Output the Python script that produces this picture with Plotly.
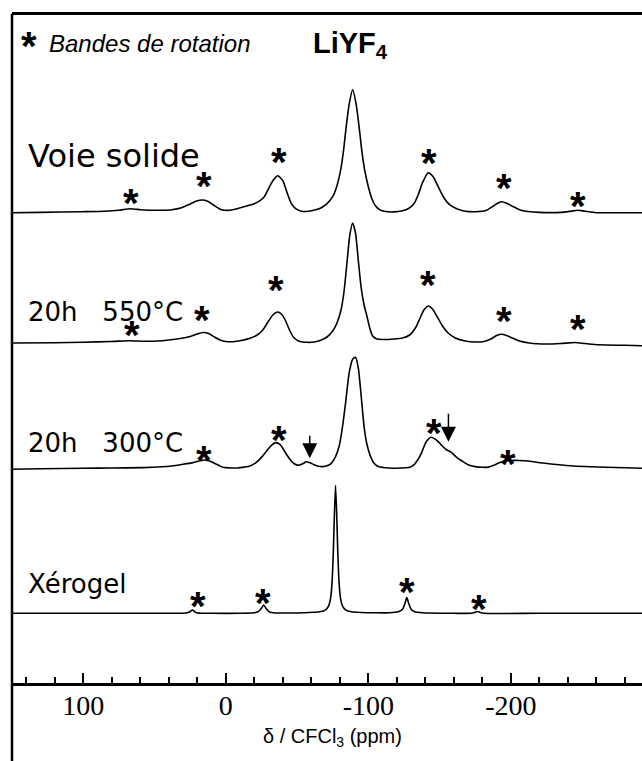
import plotly.graph_objects as go

# ---------------- data ----------------
# chemical shift (ppm) and intensity above each trace's baseline (arbitrary units)
vs_ppm = [150, 130, 101, 85, 75, 67, 60, 55, 45, 38, 31, 26, 21, 16, 12, 8, 4, 1, -3, -8, -14, -20,
          -24, -27, -30, -33, -36.5, -40, -43, -46, -49, -53, -58, -63, -67, -71, -75, -78, -80.5,
          -82.5, -84, -86.5, -89, -91.5, -94, -95.5, -97.5, -100, -102.5, -105, -108, -112, -118,
          -124, -128, -132, -135, -138, -142, -145.5, -149, -153, -157, -162, -168, -175, -180,
          -183, -187, -190, -193.5, -197, -201, -206, -212, -220, -235, -242, -247, -252, -260,
          -275, -292]
vs_int = [0, 0.3, 1, 1.5, 2.5, 4, 3, 2.5, 2.5, 3, 5, 8, 11.5, 12.7, 11, 7, 3.5, 2.5, 2.5, 4, 6.5, 9,
          12, 16, 24, 32, 37, 32, 20, 9, 4, 1.5, 1.5, 3, 5, 9, 16, 27, 42,
          61, 80, 108, 123, 108, 80, 61, 42, 26, 14, 7, 3, 1.2, 0.8,
          2, 4, 9, 18, 30, 40, 36, 26, 15, 8, 4, 1.5, 1, 1.5,
          2.5, 6, 9, 11, 9.5, 6.5, 3, 1.2, 0.3, 0.3, 1.5, 2.5, 1.5, 0,
          0, 0]

s550_ppm = [150, 120, 100, 80, 67, 58, 48, 40, 32, 25, 20, 16, 12, 8, 4, 0, -5, -11, -17, -22, -26,
            -30, -33, -36.3, -39, -42, -45, -48, -52, -57, -62, -67, -71, -75, -78, -81, -83, -85,
            -87, -89, -91, -93, -95, -97, -99, -101, -103, -106, -110, -118, -124, -129, -133, -136,
            -139, -142, -145, -148, -152, -156, -161, -168, -175, -181, -186, -190, -193.5, -197,
            -201, -206, -213, -225, -235, -245, -252, -262, -280, -292]
s550_int = [0, 0.3, 0.8, 1.5, 2.3, 1.8, 2, 3, 4.5, 6.5, 9, 10.5, 9.5, 6, 3, 1.5, 1.3, 2.5, 4.7, 8, 13,
            22, 28, 31, 29, 22, 12, 5, 1.5, 0.7, 1, 3, 6, 12, 20, 34, 52, 80,
            108, 120, 110, 82, 55, 38, 27, 15, 7, 4, 3.5, 4, 5, 8, 15, 24,
            33, 37, 34, 27, 17, 10, 5, 2, 1, 1.5, 4, 7.5, 8.8, 7.5,
            5, 2, 0, -1, -0.5, 0.5, -0.5, -1.8, -2.3, -2.7]

s300_ppm = [150, 130, 100, 80, 58, 45, 38, 30, 23, 18, 15, 12, 9, 5, 2, -4, -8, -13, -17, -21,
            -25.5, -29, -32, -35, -38, -40, -43, -45.5, -48, -51, -54, -56.5, -59, -62, -65, -68,
            -71, -74, -77, -79.5, -81.5, -84, -86.5, -89, -91, -93, -95, -97, -99, -101.6, -104,
            -107, -112, -117, -123, -129, -132, -134.6, -137.5, -140, -142, -144, -146.5, -149,
            -152, -155, -157, -159, -162, -166.4, -170, -175, -180, -184, -188, -191, -195, -200,
            -206, -212, -218, -224, -232, -244, -256, -267, -280, -292]
s300_int = [-1, -0.5, 0, 0.3, 0.7, 1.5, 2.3, 4, 5.7, 7.5, 8.3, 7.5, 5.7, 3, 1, 0.3, 0.3, 1.2, 2.3, 5.5,
            11.7, 18, 23, 25.7, 24, 20, 13, 8, 4.5, 3, 4.5, 6.5, 5.5, 3.5, 2, 1.7,
            2.5, 5, 11.7, 22, 38, 65, 95, 109, 111, 100, 72, 42, 24, 11.7, 5,
            1.7, 0.5, 0, 0.3, 1, 3.5, 8.3, 16, 25, 29, 31, 29.5, 26.7,
            22, 18.3, 17, 15, 11, 6.7, 3.5, 1.7, 1, 1.2, 3, 5, 7, 7.8,
            7.8, 7.3, 6, 5, 3.8, 2.3, 1.5, 1, 0.5, 0]

xero_ppm = [150, 100, 60, 35, 28, 25.5, 23.4, 21.5, 19, 10, -10, -20, -23, -25, -26.6, -28.2, -30,
            -33, -40, -55, -62, -66, -70, -72, -73.5, -74.5, -75.5, -76, -77, -78, -78.5, -79.5,
            -80.5, -82, -84, -88, -95, -105, -115, -121, -124, -125.7, -127, -128.3, -130, -132.5,
            -138, -160, -172, -174.5, -176.5, -178.5, -181, -220, -292]
xero_int = [0, 0, 0, 0, 0.3, 1.2, 3.3, 1.2, 0.2, 0, 0, 0.5, 2, 5, 8.3, 5, 2,
            0.6, 0.3, 0.5, 1, 1.5, 3.5, 7, 15, 30, 64, 90, 128, 90, 64, 30,
            15, 7, 3.5, 1.5, 0.8, 0.5, 0.5, 1.5, 4, 10, 15.7, 10, 4, 1.5,
            0.5, 0, 0, 0.8, 1.8, 0.8, 0, 0, 0]

spectra_ppm = [vs_ppm, s550_ppm, s300_ppm, xero_ppm]
spectra_int = [vs_int, s550_int, s300_int, xero_int]
sample_names = ["Voie solide", "20h\u00a0\u00a0\u00a0550°C", "20h\u00a0\u00a0\u00a0300°C", "Xérogel"]
offsets = [470.3, 340.0, 214.7, 69.7]          # vertical stacking of the traces

# spinning side bands (*) : position (ppm) and height of the star above baseline
star_ppm = [[66.6, 15.6, -37.0, -142.4, -195.0, -246.8],
            [66.1, 17.0, -35.1, -141.7, -195.0, -246.8],
            [15.4, -37.2, -145.9, -197.8],
            [19.4, -26.2, -126.9, -177.4]]
star_h = [[12.7, 29.4, 53.4, 52.7, 27.7, 9.4],
          [11.3, 26.3, 56.3, 61.0, 25.0, 17.0],
          [11.3, 31.3, 38.3, 7.3],
          [10.0, 13.3, 24.3, 7.3]]

# arrows on the 300 °C trace: ppm, tail height, tip height
arrow_ppm = [-58.9, -156.2]
arrow_tail = [34.0, 56.0]
arrow_tip = [10.0, 26.6]

tick_vals = [100, 0, -100, -200]
tick_text = ["100", "0", "-100", "-200"]
minor_vals = [140, 120, 80, 60, 40, 20, -20, -40, -60, -80, -120, -140, -160, -180,
              -220, -240, -260, -280]

# ---------------- layout constants ----------------
W, H = 642, 761
ML, MR, MT, MB = 12, 0, 15, 78
X0, X1 = 150, -292
PH = H - MT - MB
SANS = "Liberation Sans, Arial, sans-serif"
WIDE = "DejaVu Sans, Verdana, sans-serif"
SERIF = "Liberation Serif, Times New Roman, serif"
STAR = 40


def px2paper(px):
    return (px - ML) / (W - ML - MR)


def py2paper(py):
    return ((H - MB) - py) / PH


fig = go.Figure()
for xs, ys, off in zip(spectra_ppm, spectra_int, offsets):
    fig.add_trace(go.Scatter(
        x=xs, y=[off + v for v in ys], mode="lines",
        line=dict(color="black", width=1.6, shape="spline", smoothing=0.6),
        hoverinfo="skip", showlegend=False))

ann = []
# stars
for sp, sh, off in zip(star_ppm, star_h, offsets):
    for p, h in zip(sp, sh):
        ann.append(dict(x=p, y=off + h, xref="x", yref="y", text="<b>*</b>", showarrow=False,
                        font=dict(family=SANS, size=STAR, color="black"),
                        xanchor="center", yanchor="middle", yshift=-0.075 * STAR))
# arrows
for p, ta, tp in zip(arrow_ppm, arrow_tail, arrow_tip):
    ann.append(dict(x=p, y=offsets[2] + tp, ax=p, ay=offsets[2] + ta, xref="x", yref="y",
                    axref="x", ayref="y", text="", showarrow=True, arrowhead=2,
                    arrowsize=2.0, arrowwidth=1.5, arrowcolor="black", standoff=0))

# sample labels
label_py = [156, 312, 442.5, 584]
label_size = [32, 26, 26, 26]
for name, py, fs in zip(sample_names, label_py, label_size):
    ann.append(dict(x=px2paper(26), y=py2paper(py), xref="paper", yref="paper", text=name,
                    showarrow=False, font=dict(family=WIDE, size=fs, color="black"),
                    xanchor="left", yanchor="middle"))

# header
ann.append(dict(x=px2paper(28.5), y=py2paper(43), xref="paper", yref="paper", text="<b>*</b>",
                showarrow=False, font=dict(family=SANS, size=STAR, color="black"),
                xanchor="center", yanchor="middle", yshift=-0.075 * STAR))
ann.append(dict(x=px2paper(47), y=py2paper(43.3), xref="paper", yref="paper",
                text="<i>Bandes de rotation</i>",
                showarrow=False, font=dict(family=SANS, size=24, color="black"),
                xanchor="left", yanchor="middle"))
ann.append(dict(x=px2paper(311), y=py2paper(45), xref="paper", yref="paper",
                text="<b>LiYF<sub>4</sub></b>", showarrow=False,
                font=dict(family=SANS, size=29, color="black"), xanchor="left",
                yanchor="middle"))
# axis title
ann.append(dict(x=px2paper(332), y=py2paper(737.5), xref="paper", yref="paper",
                text="δ / CFCl<sub>3</sub> (ppm)", showarrow=False,
                font=dict(family=SANS, size=20, color="black"), xanchor="center",
                yanchor="middle"))

fig.update_layout(
    width=W, height=H,
    margin=dict(l=ML, r=MR, t=MT, b=MB, pad=0),
    paper_bgcolor="white", plot_bgcolor="white",
    showlegend=False,
    annotations=ann,
    xaxis=dict(range=[X0, X1], tickmode="array", tickvals=tick_vals, ticktext=tick_text,
               ticks="inside", ticklen=10, tickwidth=2, tickcolor="black",
               minor=dict(tickmode="array", tickvals=minor_vals, ticks="inside", ticklen=6,
                          tickwidth=2, tickcolor="black", showgrid=False),
               showline=True, linewidth=2.5, linecolor="black", mirror=True,
               showgrid=False, zeroline=False,
               tickfont=dict(family=SERIF, size=28, color="black"),
               ticklabelstandoff=-4),
    yaxis=dict(range=[0, PH], visible=False, showgrid=False, zeroline=False),
    shapes=[dict(type="line", xref="paper", yref="paper", x0=0, x1=0,
                 y0=-(MB + 5) / PH, y1=1 + 1.25 / PH,
                 line=dict(color="black", width=2.5))],
)

fig.write_html("out.html", config={"displayModeBar": False},
               post_script="document.body.style.margin='0px';")
